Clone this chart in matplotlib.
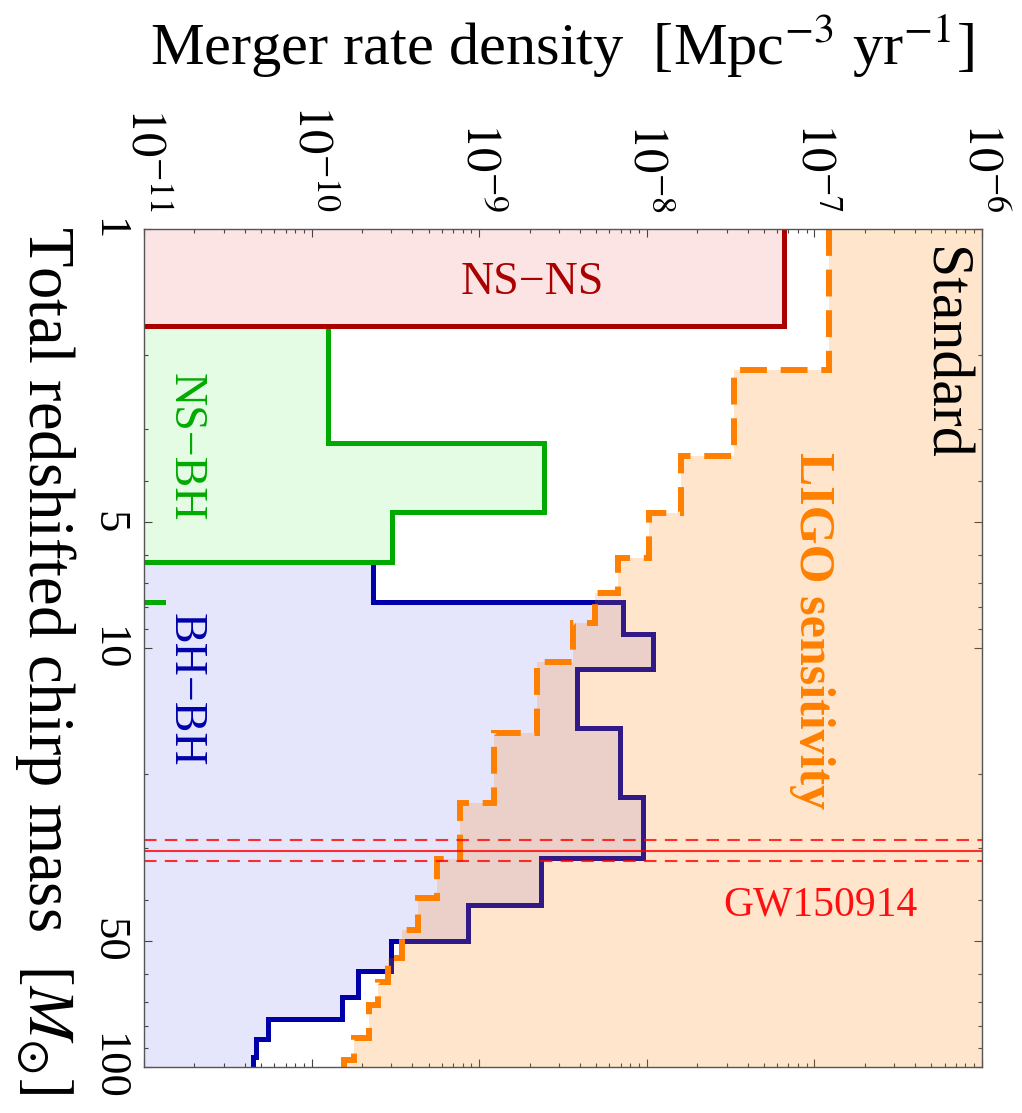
import numpy as np
import matplotlib
matplotlib.use('Agg')
import matplotlib.pyplot as plt
from matplotlib.ticker import FixedLocator, FixedFormatter, NullFormatter

plt.rcParams['font.family'] = ['Liberation Serif', 'DejaVu Serif']
plt.rcParams['mathtext.fontset'] = 'stix'

# chirp-mass bin edges [M_sun] and merger rate densities [Mpc^-3 yr^-1]
nsns_edges = [1.0, 1.70]
nsns_rate = [6.56e-8]

nsbh_edges = [1.70, 3.25, 4.75, 6.25, 7.76, 7.76]
nsbh_rate = [1.26e-10, 2.45e-9, 3.01e-10, 5e-12, 1.3e-11]

bhbh_edges = [6.25, 7.76, 9.26, 11.25, 15.5, 22.7, 31.7, 41.1, 50.1,
              59.1, 68.0, 77.0, 85.8, 94.9, 100.0]
bhbh_rate = [2.34e-10, 7.27e-9, 1.09e-8, 3.83e-9, 6.95e-9, 9.57e-9, 2.33e-9,
             8.53e-10, 2.99e-10, 1.90e-10, 1.51e-10, 5.48e-11, 4.66e-11, 4.46e-11]

ligo_edges = [1.0, 2.17, 3.48, 4.77, 6.11, 7.39, 8.74, 10.8, 16.0, 23.5, 31.9,
              39.6, 47.1, 55.1, 62.8, 71.2, 85.5, 96.3, 100.0]
ligo_rate = [1.22e-7, 3.30e-8, 1.61e-8, 1.04e-8, 6.71e-9, 4.93e-9, 3.62e-9,
             2.21e-9, 1.22e-9, 7.71e-10, 5.61e-10, 4.30e-10, 3.47e-10,
             2.87e-10, 2.48e-10, 2.21e-10, 1.80e-10, 1.56e-10]

# GW150914 total redshifted chirp mass with its uncertainty band
gw_mass = 30.5
gw_lo, gw_hi = 28.7, 32.2

rate_ticks = [1e-11, 1e-10, 1e-9, 1e-8, 1e-7, 1e-6]
rate_labels = [r'$10^{-11}$', r'$10^{-10}$', r'$10^{-9}$', r'$10^{-8}$',
               r'$10^{-7}$', r'$10^{-6}$']
mass_ticks = [1, 5, 10, 50, 100]
mass_labels = ['1', '5', '10', '50', '100']
mass_minor = [2, 3, 4, 6, 7, 8, 9, 20, 30, 40, 60, 70, 80, 90]

RMIN, RMAX = 1e-11, 1e-6
FLOOR, CEIL = 1e-13, 1e-5


def step_path(edges, rates):
    """Staircase through the bins: rate is constant across each mass bin."""
    m = np.repeat(np.asarray(edges, float), 2)[1:-1]
    r = np.repeat(np.asarray(rates, float), 2)
    return r, m


fig = plt.figure(figsize=(10.22, 11.13), dpi=100)
ax = fig.add_axes([0.1409, 0.0416, 0.8197, 0.7526])
ax.set_xscale('log')
ax.set_yscale('log')
ax.set_xlim(RMIN, RMAX)
ax.set_ylim(100, 1)

# filled populations
r, m = step_path(nsns_edges, nsns_rate)
ax.fill_betweenx(m, FLOOR, r, color='#fde4e4', lw=0, zorder=1)
r, m = step_path(nsbh_edges[:4], nsbh_rate[:3])
ax.fill_betweenx(m, FLOOR, r, color='#e4fbe4', lw=0, zorder=1)
r, m = step_path(bhbh_edges, bhbh_rate)
ax.fill_betweenx(m, FLOOR, r, color='#e5e5fb', lw=0, zorder=1)

# outlines
r, m = step_path(bhbh_edges, bhbh_rate)
ax.plot(r, m, color='#0000aa', lw=3.6, solid_joinstyle='miter', zorder=2)
r, m = step_path(nsbh_edges, nsbh_rate)
ax.plot(r, m, color='#00aa00', lw=3.6, solid_joinstyle='miter', zorder=3)
r, m = step_path(nsns_edges, nsns_rate)
ax.plot(np.append(r, FLOOR), np.append(m, nsns_edges[-1]), color='#aa0000',
        lw=3.6, solid_joinstyle='miter', zorder=3)

# LIGO sensitivity region, translucent on top of the populations
r, m = step_path(ligo_edges, ligo_rate)
ax.fill_betweenx(m, r, CEIL, color='#ff8000', alpha=0.2, lw=0, zorder=4)
ax.plot(r, m, color='#ff8000', lw=4.3, dashes=(4.5, 2.3),
        dash_capstyle='butt', dash_joinstyle='miter', zorder=5)

# GW150914
ax.axhline(gw_mass, color='#ff0000', lw=1.5, alpha=0.8, zorder=6)
for mm in (gw_lo, gw_hi):
    ax.axhline(mm, color='#ff0000', lw=1.5, alpha=0.8, dashes=(6, 4), zorder=6)

# text labels
ax.text(0.464, 0.9355, 'NS\u2212NS', color='#aa0000', fontsize=33,
        ha='center', va='center', transform=ax.transAxes, zorder=7)
ax.text(0.049, 0.740, 'NS\u2212BH', color='#00aa00', fontsize=33,
        rotation=-90, ha='center', va='center', transform=ax.transAxes, zorder=7)
ax.text(0.049, 0.450, 'BH\u2212BH', color='#0000aa', fontsize=33,
        rotation=-90, ha='center', va='center', transform=ax.transAxes, zorder=7)
ax.text(0.797, 0.521, 'LIGO sensitivity', color='#ff8000', fontsize=36,
        fontweight='bold', rotation=-90, ha='center', va='center',
        transform=ax.transAxes, zorder=7)
ax.text(0.953, 0.851, 'Standard', color='black', fontsize=43,
        rotation=-90, ha='center', va='center', transform=ax.transAxes, zorder=7)
ax.text(0.807, 0.193, 'GW150914', color='#ff1010', fontsize=30,
        ha='center', va='center', transform=ax.transAxes, zorder=7)

# axes: rate along the top, mass down the left side
ax.xaxis.set_major_locator(FixedLocator(rate_ticks))
ax.xaxis.set_major_formatter(FixedFormatter(rate_labels))
minor_r = [s * 10.0 ** e for e in range(-11, -6) for s in range(2, 10)]
ax.xaxis.set_minor_locator(FixedLocator(minor_r))
ax.xaxis.set_minor_formatter(NullFormatter())
ax.yaxis.set_major_locator(FixedLocator(mass_ticks))
ax.yaxis.set_major_formatter(FixedFormatter(mass_labels))
ax.yaxis.set_minor_locator(FixedLocator(mass_minor))
ax.yaxis.set_minor_formatter(NullFormatter())

ax.tick_params(which='both', direction='in', top=True, bottom=True,
               left=True, right=True, labeltop=True, labelbottom=False,
               color='#444444', width=0.8)
ax.tick_params(which='major', length=5.8)
ax.tick_params(which='minor', length=2.9)
ax.tick_params(axis='x', which='major', labelsize=35, labelrotation=-90, pad=12)
ax.tick_params(axis='y', which='major', labelsize=32, labelrotation=-90, pad=11.5)
for lbl in ax.get_yticklabels():
    lbl.set_rotation_mode('anchor')
    lbl.set_ha('center')
    lbl.set_va('top')
for sp in ax.spines.values():
    sp.set_color('#555555')
    sp.set_linewidth(1.0)
    sp.set_zorder(8)

ax.xaxis.set_label_position('top')
ax.set_xlabel(r'Merger rate density  [Mpc$^{-3}$ yr$^{-1}$]', fontsize=43.5)
ax.xaxis.label.set_va('center')
ax.xaxis.set_label_coords(0.4996, 1.2197)
ax.set_ylabel(r'Total redshifted chirp mass  $[M_{\odot}]$', fontsize=46.5,
              rotation=-90)
ax.yaxis.label.set_va('center')
ax.yaxis.set_label_coords(-0.118, 0.4855)

fig.savefig('out.png', dpi=100)
